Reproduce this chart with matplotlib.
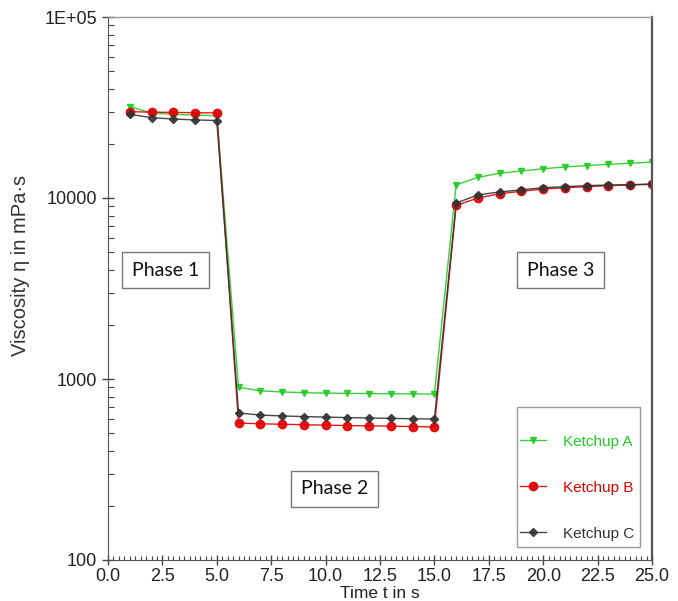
import matplotlib
matplotlib.use("Agg")
import matplotlib.pyplot as plt
from matplotlib.patches import Rectangle
from matplotlib.ticker import FixedLocator, NullFormatter, MultipleLocator

time_s = [1, 2, 3, 4, 5, 6, 7, 8, 9, 10, 11, 12, 13, 14, 15,
          16, 17, 18, 19, 20, 21, 22, 23, 24, 25]
ketchup_a = [32000, 29500, 29000, 28700, 28500,
             900, 860, 848, 840, 836, 833, 831, 829, 827, 825,
             11800, 13000, 13700, 14100, 14500, 14850, 15100, 15350, 15550, 15800]
ketchup_b = [30000, 29800, 29700, 29600, 29500,
             571, 566, 562, 559, 556, 553, 551, 549, 546, 543,
             9100, 10000, 10550, 10900, 11200, 11400, 11550, 11700, 11800, 11900]
ketchup_c = [29000, 27800, 27300, 27000, 26800,
             649, 632, 625, 620, 616, 612, 609, 606, 603, 601,
             9380, 10400, 10800, 11100, 11400, 11550, 11700, 11800, 11850, 11950]
series_names = ["Ketchup A", "Ketchup B", "Ketchup C"]
series_colors = ["#22cc22", "#e00000", "#333333"]
series_markers = ["v", "o", "D"]
y_tick_values = [100, 1000, 10000, 100000]
y_tick_labels = ["100", "1000", "10000", "1E+05"]
phase_labels = ["Phase 1", "Phase 2", "Phase 3"]

plt.rcParams['font.family'] = ['Liberation Sans', 'DejaVu Sans']

fig = plt.figure(figsize=(6.78, 6.01), dpi=100)
ax = fig.add_axes([108/678, 1-560/601, 544/678, 543/601])

msizes = [5, 6, 4]
for vals, name, col, mk, ms in zip([ketchup_a, ketchup_b, ketchup_c],
                                   series_names, series_colors, series_markers, msizes):
    ax.plot(time_s, vals, color=col, marker=mk, markersize=ms, linewidth=1.0,
            label=name, alpha=0.9)

ax.set_yscale('log')
ax.set_ylim(100, 100000)
ax.set_xlim(0, 25)
ax.yaxis.set_major_locator(FixedLocator(y_tick_values))
ax.set_yticklabels(y_tick_labels)
ax.yaxis.set_minor_formatter(NullFormatter())
ax.xaxis.set_major_locator(MultipleLocator(2.5))
ax.xaxis.set_minor_locator(MultipleLocator(0.25))
ax.set_xticklabels([f"{v:.1f}" for v in ax.get_xticks()])

ax.tick_params(axis='x', which='major', direction='inout', length=7, width=1,
               labelsize=13, pad=2, color='#444444', labelcolor='#222222')
ax.tick_params(axis='x', which='minor', direction='in', length=3, width=0.8, color='#444444')
ax.tick_params(axis='y', which='major', direction='inout', length=8, width=1,
               labelsize=13, pad=4, color='#444444', labelcolor='#222222')
ax.tick_params(axis='y', which='minor', direction='in', length=4, width=0.8, color='#444444')

ax.spines['top'].set_color('#999999')
ax.spines['top'].set_linewidth(1.0)
ax.spines['right'].set_color('#555555')
ax.spines['right'].set_linewidth(1.6)
ax.spines['left'].set_color('#555555')
ax.spines['bottom'].set_color('#555555')

ax.set_xlabel("Time t in s", fontsize=12.5, color='#222222')
ax.xaxis.set_label_coords(0.5, -0.048)
ax.set_ylabel("Viscosity η in mPa·s", fontsize=14.5, color='#333333')
ax.yaxis.set_label_coords(-0.143, 0.543)

phase_pos = [(0.106, 0.534), (0.416, 0.131), (0.832, 0.534)]
for lbl, (px, py) in zip(phase_labels, phase_pos):
    ax.text(px, py, lbl, transform=ax.transAxes, ha='center', va='center',
            fontsize=14, family=['Lato', 'DejaVu Sans'], color='#111111',
            bbox=dict(boxstyle='square,pad=0.5', facecolor='white',
                      edgecolor='#777777', linewidth=1.0))

# legend frame
ax.add_patch(Rectangle((0.752, 0.024), 0.226, 0.258, transform=ax.transAxes,
                       facecolor='white', edgecolor='#999999', linewidth=1.0, zorder=4))
leg = ax.legend(loc='upper left', bbox_to_anchor=(0.758, 0.231), frameon=False,
                fontsize=11, labelcolor='linecolor', handlelength=1.7,
                handletextpad=1.1, labelspacing=2.1, borderpad=0, borderaxespad=0)
leg.set_zorder(5)

fig.savefig("out.png", dpi=100)
